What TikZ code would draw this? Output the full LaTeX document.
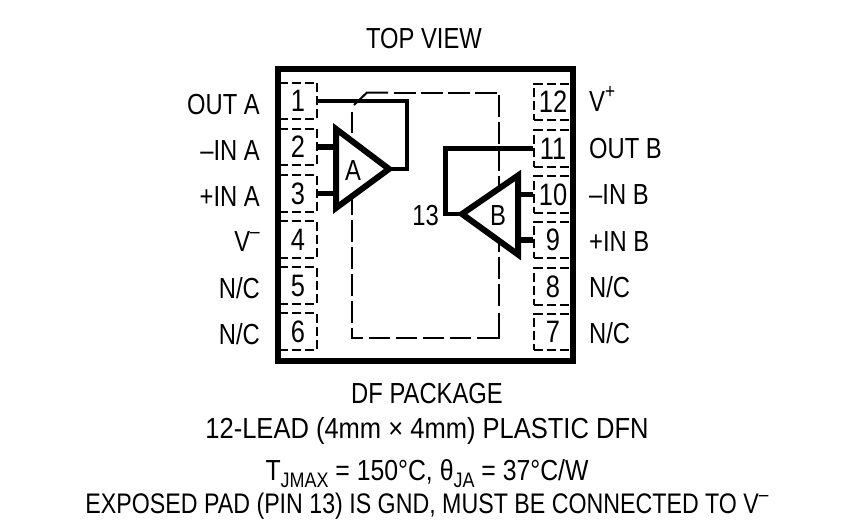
\documentclass[tikz,border=0pt]{standalone}
\usepackage{fontspec}
\setmainfont[FakeStretch=0.82]{Liberation Sans}
\usetikzlibrary{positioning}
\newcommand{\subtext}[1]{\raisebox{-.25em}{\fontsize{21}{21}\selectfont #1}}
\newcommand{\suptext}[1]{\raisebox{.42em}{\fontsize{21}{21}\selectfont #1}}
\tikzset{
  label/.style={font=\fontsize{29}{32}\selectfont,inner sep=0pt,text height=20pt,text depth=0pt},
  pinbox/.style={draw,line width=1.8pt,dash pattern=on 9pt off 4pt,minimum width=38pt,minimum height=36.5pt,inner sep=0pt,font=\fontsize{31}{32}\selectfont},
  pad/.style={line width=2pt},
  paddash/.style={pad,dash pattern=on 21.5pt off 5.5pt},
  amp/.style={line width=6pt,miter limit=10},
  trace/.style={line width=4.5pt},
  pintrace/.style={line width=5.5pt}
}
\begin{document}
\begin{tikzpicture}[x=1pt,y=-1pt]
 \useasboundingbox (0,0) rectangle (847,525);
 \node[label] (title) at (424,38) {TOP VIEW};
 % exposed pad
 \coordinate (padtip) at (354,105);
 \draw[pad] (padtip) -- (367,92.5) -- (388,92.5);
 \draw[paddash] (394,92.5) -- (497,92.5);
 \draw[paddash] (499,95) -- (499,306.5);
 \draw[pad] (499,312.5) -- (499,337.5) -- (476.5,337.5);
 \draw[paddash] (471,337.5) -- (368,337.5);
 \draw[pad] (362.5,337.5) -- (352,337.5) -- (352,328);
 \draw[paddash] (352,322.5) -- (352,198);
 \draw[pad] (352,112) -- (352,133);
 % left pins
 \node[pinbox] (p1) at (298,101) {1};
 \node[pinbox] (p2) at (298,147) {2};
 \node[pinbox] (p3) at (298,193.5) {3};
 \node[pinbox] (p4) at (298,239.5) {4};
 \node[pinbox] (p5) at (298,285.5) {5};
 \node[pinbox] (p6) at (298,331.5) {6};
 % right pins
 \node[pinbox] (p12) at (553,102) {12};
 \node[pinbox] (p11) at (553,148.5) {11};
 \node[pinbox] (p10) at (553,194.5) {10};
 \node[pinbox] (p9) at (553,240) {9};
 \node[pinbox] (p8) at (553,286.5) {8};
 \node[pinbox] (p7) at (553,332) {7};
 % amplifiers
 \fill[white] (336,129) -- (389,169) -- (336,208) -- cycle;
 \fill[white] (518,175.5) -- (462,214) -- (518,254.5) -- cycle;
 \draw[amp] (336,129) coordinate (atop) -- (389,169) coordinate (aout) -- (336,208) coordinate (abot) -- cycle;
 \draw[amp] (518,175.5) coordinate (btop) -- (462,214) coordinate (bout) -- (518,254.5) coordinate (bbot) -- cycle;
 \node[label] (ampa) at (353,170) {A};
 \node[label] (ampb) at (498,215) {B};
 % traces
 \draw[trace] (p1.east) -| (407,169) -- (aout);
 \draw[pintrace] (p2.east) -- (p2.east -| atop);
 \draw[pintrace] (p3.east) -- (p3.east -| atop);
 \draw[trace] (p11.west) -| (445.5,214) -- (bout);
 \draw[pintrace] (p10.west) -- (p10.west -| btop);
 \draw[pintrace] (p9.west) -- (p9.west -| btop);
 \node[label,anchor=east] (pin13) at (439,215) {13};
 % left names
 \node[label,anchor=east] (outa) at (260,104) {OUT A};
 \node[label,anchor=east] (ina) at (260,150) {--IN A};
 \node[label,anchor=east] (ipa) at (260,196) {+IN A};
 \node[label,anchor=east] (vm) at (260,241) {V\suptext{--}};
 \node[label,anchor=east] (nc5) at (260,288) {N/C};
 \node[label,anchor=east] (nc6) at (260,334) {N/C};
 % right names
 \node[label,anchor=west] (vp) at (589,101) {V\suptext{+}};
 \node[label,anchor=west] (outb) at (589,148) {OUT B};
 \node[label,anchor=west] (inb) at (589,194) {--IN B};
 \node[label,anchor=west] (ipb) at (589,241) {+IN B};
 \node[label,anchor=west] (nc8) at (589,287) {N/C};
 \node[label,anchor=west] (nc7) at (589,333) {N/C};
 % package frame
 \draw[line width=6pt] (278,69) rectangle (573,361);
 % caption
 \node[label] (cap1) at (427,393.5) {DF PACKAGE};
 \node[label] (cap2) at (427,428.5) {\addfontfeature{FakeStretch=0.88}12-LEAD (4mm × 4mm) PLASTIC DFN};
 \node[label] (cap3) at (427,470.5) {\addfontfeature{FakeStretch=0.855}T\subtext{JMAX} = 150°C, θ\subtext{JA} = 37°C/W};
 \node[label,font=\fontsize{28.3}{32}\selectfont] (cap4) at (427,503.5) {EXPOSED PAD (PIN 13) IS GND, MUST BE CONNECTED TO V\suptext{--}};
\end{tikzpicture}
\end{document}
